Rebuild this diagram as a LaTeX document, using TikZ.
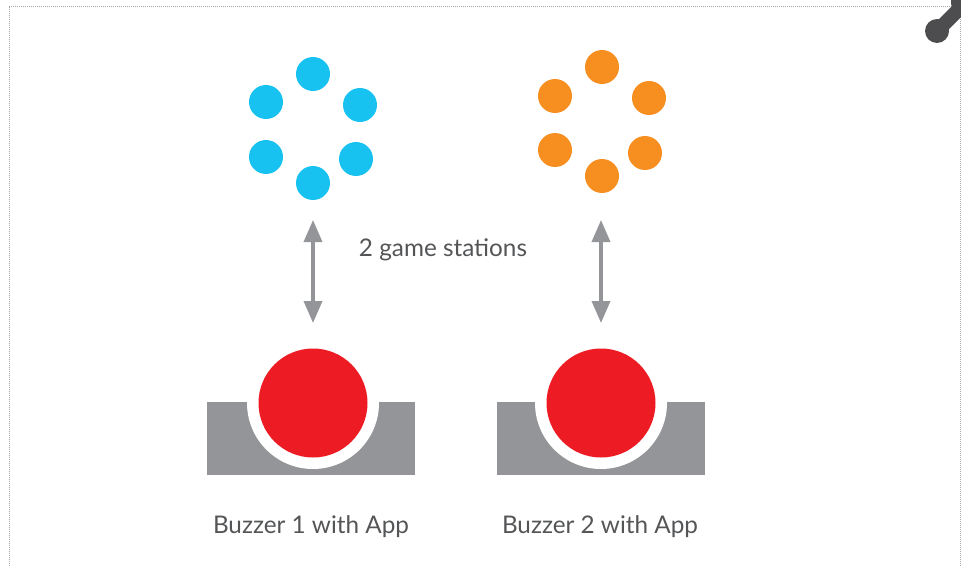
\documentclass[tikz,border=0pt]{standalone}
\usepackage{fontspec}
\setmainfont{Lato}
\usepackage{tikz}
\usetikzlibrary{arrows.meta,calc}

\definecolor{dotblue}{HTML}{17C1F0}
\definecolor{dotorange}{HTML}{F68E20}
\definecolor{buzzred}{HTML}{ED1C24}
\definecolor{buzzgray}{HTML}{939598}
\definecolor{txtgray}{HTML}{545557}
\definecolor{blobgray}{HTML}{4D4D4F}

\tikzset{
  dot/.style={circle, fill=#1, inner sep=0pt, minimum size=34pt},
  knob/.style={circle, fill=#1, inner sep=0pt},
  lbl/.style={text=txtgray, font=\fontsize{24.3}{28}\selectfont},
  link/.style={buzzgray, line width=3.5pt, {Triangle[width=18pt,length=22pt]}-{Triangle[width=18pt,length=22pt]}}
}

\begin{document}
\begin{tikzpicture}[x=1pt,y=-1pt]
\useasboundingbox (0,0) rectangle (961,567);
% frame
\draw[gray!70, line width=0.8pt, dash pattern=on 1pt off 1pt] (9,570) -- (9,6) -- (960,6) -- (960,570);
\fill[blobgray] (942,36) -- (971,7) -- (961,-3) -- (932,26) -- cycle;
\fill[blobgray] (937,31) circle (12);
\fill[blobgray] (966,2) circle (15);

% station 1
\node[dot=dotblue] (s1a) at (313,74) {};
\node[dot=dotblue] (s1b) at (360,105) {};
\node[dot=dotblue] (s1c) at (356,159) {};
\node[dot=dotblue] (s1d) at (313,183) {};
\node[dot=dotblue] (s1e) at (266,157) {};
\node[dot=dotblue] (s1f) at (266,102) {};
% station 2
\node[dot=dotorange] (s2a) at (602,67) {};
\node[dot=dotorange] (s2b) at (649,98) {};
\node[dot=dotorange] (s2c) at (645,153) {};
\node[dot=dotorange] (s2d) at (602,176) {};
\node[dot=dotorange] (s2e) at (555,150) {};
\node[dot=dotorange] (s2f) at (555,96) {};

% buzzers
\fill[buzzgray] (207,402) rectangle (415,475);
\node[knob=white, minimum size=132pt] (ring1) at (313,403) {};
\node[knob=buzzred, minimum size=109pt] (buzz1) at (313,403) {};
\fill[buzzgray] (497,402) rectangle (705,475);
\node[knob=white, minimum size=132pt] (ring2) at (601,403) {};
\node[knob=buzzred, minimum size=109pt] (buzz2) at (601,403) {};

% arrows
\coordinate (a1top) at (313,220);
\coordinate (a1bot) at (313,323);
\coordinate (a2top) at (601,220);
\coordinate (a2bot) at (601,323);
\draw[link] (a1top) -- (a1bot);
\draw[link] (a2top) -- (a2bot);

% labels
\node[lbl] (stations) at (443,250) {2 game stations};
\node[lbl] (lbl1) at (311,527) {Buzzer 1 with App};
\node[lbl] (lbl2) at (600,527) {Buzzer 2 with App};
\end{tikzpicture}
\end{document}
